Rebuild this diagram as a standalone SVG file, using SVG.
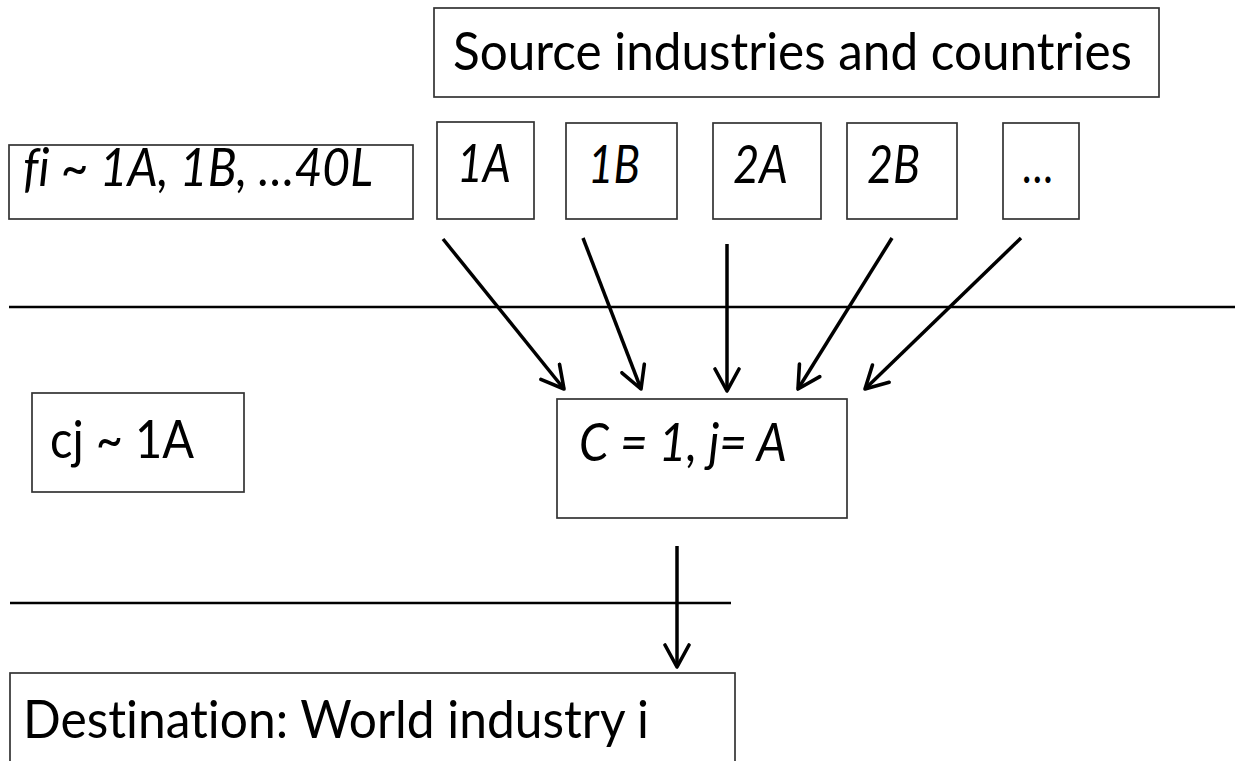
<svg xmlns="http://www.w3.org/2000/svg" width="1235" height="761" viewBox="0 0 1235 761">
<style>
.box{fill:#fff;stroke:#333;stroke-width:1.7}
.t{font-family:Lato,"Open Sans","Liberation Sans",sans-serif;font-size:52px;fill:#000;font-variant-ligatures:none;font-feature-settings:"liga" 0,"clig" 0}
.it{font-style:italic}
.rule{stroke:#000;stroke-width:2.4;fill:none}
.arr{stroke:#000;stroke-width:3.5;fill:none;marker-end:url(#ah)}
</style>
<defs>
<marker id="ah" markerUnits="userSpaceOnUse" markerWidth="28" markerHeight="30" viewBox="0 0 28 30" refX="24" refY="15" orient="auto">
<path d="M2,3 L24,15 L2,27" fill="none" stroke="#000" stroke-width="3.6" stroke-linejoin="round" stroke-linecap="round"/>
</marker>
</defs>
<rect width="1235" height="761" fill="#fff"/>
<g id="source">
<rect class="box" x="434" y="8" width="725" height="89"/>
<text class="t" x="453" y="70" textLength="679" lengthAdjust="spacingAndGlyphs">Source industries and countries</text>
</g>
<g id="fi">
<rect class="box" x="9" y="145" width="404" height="74"/>
<text class="t it" x="23" y="186" textLength="350" lengthAdjust="spacingAndGlyphs">fi ~ 1A, 1B, …40L</text>
</g>
<g id="n1A">
<rect class="box" x="437" y="122" width="97" height="97"/>
<text class="t it" x="457" y="182" textLength="54" lengthAdjust="spacingAndGlyphs">1A</text>
</g>
<g id="n1B">
<rect class="box" x="566" y="123" width="111" height="96"/>
<text class="t it" x="588" y="183" textLength="52" lengthAdjust="spacingAndGlyphs">1B</text>
</g>
<g id="n2A">
<rect class="box" x="713" y="123" width="108" height="96"/>
<text class="t it" x="733" y="183" textLength="55" lengthAdjust="spacingAndGlyphs">2A</text>
</g>
<g id="n2B">
<rect class="box" x="847" y="123" width="110" height="96"/>
<text class="t it" x="867" y="183" textLength="53" lengthAdjust="spacingAndGlyphs">2B</text>
</g>
<g id="nmore">
<rect class="box" x="1003" y="123" width="76" height="96"/>
<text class="t it" x="1023" y="183" textLength="31" lengthAdjust="spacingAndGlyphs">…</text>
</g>
<g id="cj">
<rect class="box" x="32" y="393" width="212" height="99"/>
<text class="t" x="50" y="458" textLength="144" lengthAdjust="spacingAndGlyphs">cj ~ 1A</text>
</g>
<g id="c1jA">
<rect class="box" x="557" y="399" width="290" height="119"/>
<text class="t it" x="579" y="461" textLength="208" lengthAdjust="spacingAndGlyphs">C = 1, j= A</text>
</g>
<g id="dest">
<rect class="box" x="10" y="673" width="725" height="120"/>
<text class="t" x="23" y="738" textLength="626" lengthAdjust="spacingAndGlyphs">Destination: World industry i</text>
</g>
<g id="rules">
<line class="rule" x1="9" y1="307" x2="1235" y2="307"/>
<line class="rule" x1="10" y1="603" x2="731" y2="603"/>
</g>
<g id="connectors">
<line class="arr" x1="443" y1="239" x2="564" y2="389"/>
<line class="arr" x1="583" y1="238" x2="641" y2="389"/>
<line class="arr" x1="727" y1="244" x2="727" y2="391"/>
<line class="arr" x1="892" y1="238" x2="798" y2="389"/>
<line class="arr" x1="1021" y1="238" x2="865" y2="389"/>
<line class="arr" x1="677" y1="546" x2="677" y2="667"/>
</g>
</svg>
